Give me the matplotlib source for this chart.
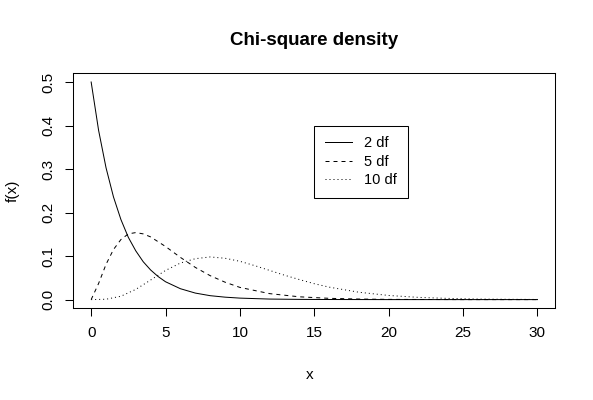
import matplotlib
matplotlib.use("Agg")
import matplotlib.pyplot as plt

plt.rcParams['font.family'] = ['Liberation Sans', 'DejaVu Sans']
plt.rcParams['lines.scale_dashes'] = False

# Values
x_2df = [0, 0.5, 1, 1.5, 2, 2.5, 3, 3.5, 4, 4.5, 5, 6, 7, 8, 9, 10, 12, 14, 16, 20, 25, 30]
f_2df = [0.5, 0.389, 0.303, 0.236, 0.184, 0.143, 0.112, 0.087, 0.068, 0.053, 0.041,
         0.025, 0.015, 0.009, 0.0056, 0.0034, 0.0012, 0.0005, 0.0002, 0.0, 0.0, 0.0]

x_5df = [0, 0.5, 1, 1.5, 2, 2.5, 3, 3.5, 4, 5, 6, 7, 8, 9, 10, 12, 14, 16, 18, 20, 25, 30]
f_5df = [0.0, 0.037, 0.081, 0.115, 0.138, 0.151, 0.154, 0.151, 0.144, 0.122, 0.097,
         0.074, 0.055, 0.040, 0.028, 0.0137, 0.0064, 0.0029, 0.0013, 0.0005, 0.0, 0.0]

x_10df = [0, 1, 2, 3, 4, 5, 6, 7, 8, 9, 10, 11, 12, 13, 14, 15, 16, 18, 20, 22, 24, 26, 28, 30]
f_10df = [0.0, 0.0008, 0.0077, 0.0235, 0.045, 0.067, 0.084, 0.094, 0.098, 0.095, 0.088,
          0.078, 0.067, 0.056, 0.046, 0.0365, 0.0286, 0.0169, 0.0095, 0.0051, 0.0027,
          0.0013, 0.0007, 0.0003]

labels = ["2 df", "5 df", "10 df"]
x_ticks = [0, 5, 10, 15, 20, 25, 30]
y_ticks = [0.0, 0.1, 0.2, 0.3, 0.4, 0.5]
y_tick_labels = ["0.0", "0.1", "0.2", "0.3", "0.4", "0.5"]

W, H = 593, 400
fig = plt.figure(figsize=(W / 100, H / 100), dpi=100)
fig.patch.set_facecolor("white")
ax = fig.add_axes([73.3 / W, 1 - 308.3 / H, 482 / W, 235 / H])

px = 0.72  # one pixel in points
lw = 0.75
ax.plot(x_2df, f_2df, color="black", lw=px, linestyle="-", label=labels[0])
ax.plot(x_5df, f_5df, color="black", lw=px, linestyle=(0, (4 * px, 4 * px)), label=labels[1])
ax.plot(x_10df, f_10df, color="black", lw=px, linestyle=(0, (1 * px, 3 * px)), label=labels[2])

ax.set_xlim(-1.2, 31.2)
ax.set_ylim(-0.02, 0.52)
ax.set_xticks(x_ticks)
ax.set_xticklabels([str(t) for t in x_ticks])
ax.set_yticks(y_ticks)
ax.set_yticklabels(y_tick_labels, rotation=90, va="center")

for s in ax.spines.values():
    s.set_linewidth(lw)
    s.set_color("black")
ax.tick_params(direction="out", length=6, width=lw, colors="black", labelsize=11, pad=7)

ax.set_xlabel("x", fontsize=11)
ax.set_ylabel("f(x)", fontsize=11)
ax.xaxis.set_label_coords(0.5 + (310 - 314.3) / 482, (308.3 - 375) / 235)
ax.xaxis.label.set_va("center")
ax.yaxis.set_label_coords((13 - 73.3) / 482, 0.5)
ax.yaxis.label.set_va("center")

ax.set_title("Chi-square density", fontsize=13.5, fontweight="bold", y=1 + 33 / 235, va="center", pad=0)

leg = ax.legend(loc="upper left", bbox_to_anchor=(15, 0.4), bbox_transform=ax.transData,
                fontsize=10.5, frameon=True, fancybox=False, framealpha=1, edgecolor="black",
                borderaxespad=0, handlelength=1.85, handletextpad=0.8, labelspacing=0.3,
                borderpad=0.75)
leg.get_frame().set_linewidth(lw)

fig.savefig("out.png", dpi=100)
